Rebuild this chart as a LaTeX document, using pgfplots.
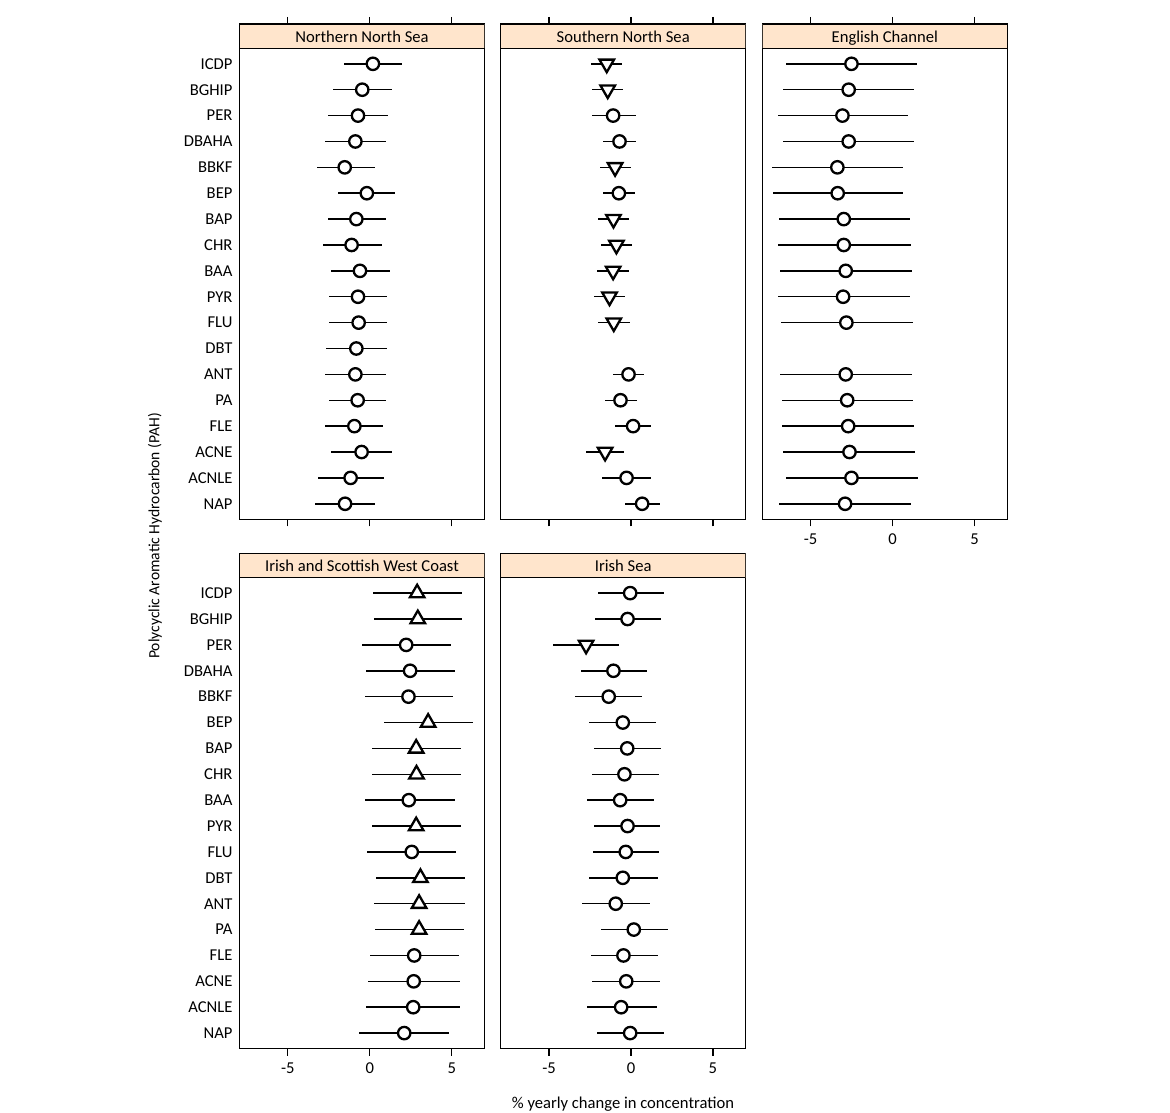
\documentclass[border=0pt]{standalone}
\usepackage{fontspec}
\setmainfont{Carlito}
\usepackage{pgfplots}
\usepackage{pgfplotstable}
\pgfplotsset{compat=1.18}
\definecolor{stripbg}{RGB}{255,229,204}
\newcommand{\fs}{\fontsize{8.3}{10}\selectfont}

% downward triangle, centred like triangle*
\pgfdeclareplotmark{tridown}{%
  \pgfpathmoveto{\pgfqpoint{0pt}{-\pgfplotmarksize}}%
  \pgfpathlineto{\pgfqpointpolar{30}{\pgfplotmarksize}}%
  \pgfpathlineto{\pgfqpointpolar{150}{\pgfplotmarksize}}%
  \pgfpathclose
  \pgfusepathqfillstroke}

% columns: i = row (1 = NAP ... 18 = ICDP), v = estimate, lo/hi = interval, m = marker class
\pgfplotstableread{
i v lo hi m
18 0.19 -1.60 1.97 c
17 -0.46 -2.24 1.35 c
16 -0.72 -2.55 1.14 c
15 -0.88 -2.71 1.00 c
14 -1.53 -3.25 0.33 c
13 -0.18 -1.96 1.55 c
12 -0.82 -2.57 0.96 c
11 -1.11 -2.87 0.72 c
10 -0.60 -2.38 1.22 c
9 -0.72 -2.51 1.04 c
8 -0.68 -2.49 1.06 c
7 -0.82 -2.69 1.06 c
6 -0.88 -2.75 0.96 c
5 -0.74 -2.51 1.00 c
4 -0.94 -2.73 0.82 c
3 -0.50 -2.38 1.35 c
2 -1.17 -3.19 0.88 c
1 -1.51 -3.36 0.33 c
}\nns
\pgfplotstableread{
i v lo hi m
18 -1.48 -2.47 -0.56 d
17 -1.42 -2.37 -0.46 d
16 -1.09 -2.41 0.29 c
15 -0.70 -1.70 0.29 c
14 -0.97 -1.92 -0.01 d
13 -0.74 -1.72 0.23 c
12 -1.07 -2.03 -0.11 d
11 -0.89 -1.84 0.07 d
10 -1.09 -2.06 -0.15 d
9 -1.31 -2.25 -0.35 d
8 -1.05 -1.99 -0.09 d
6 -0.15 -1.11 0.82 c
5 -0.64 -1.56 0.34 c
4 0.13 -0.97 1.23 c
3 -1.58 -2.74 -0.40 d
2 -0.27 -1.74 1.23 c
1 0.68 -0.38 1.78 c
}\sns
\pgfplotstableread{
i v lo hi m
18 -2.51 -6.51 1.51 c
17 -2.68 -6.66 1.33 c
16 -3.06 -7.02 0.94 c
15 -2.68 -6.69 1.33 c
14 -3.37 -7.33 0.63 c
13 -3.35 -7.31 0.66 c
12 -2.98 -6.96 1.04 c
11 -2.98 -6.98 1.10 c
10 -2.86 -6.88 1.18 c
9 -3.02 -6.98 1.04 c
8 -2.82 -6.82 1.22 c
6 -2.86 -6.86 1.16 c
5 -2.77 -6.75 1.22 c
4 -2.71 -6.72 1.30 c
3 -2.63 -6.67 1.39 c
2 -2.51 -6.49 1.53 c
1 -2.90 -6.92 1.14 c
}\ech
\pgfplotstableread{
i v lo hi m
18 2.89 0.21 5.63 u
17 2.93 0.23 5.64 u
16 2.22 -0.46 4.96 c
15 2.46 -0.21 5.20 c
14 2.36 -0.30 5.10 c
13 3.56 0.84 6.30 u
12 2.83 0.11 5.57 u
11 2.85 0.13 5.58 u
10 2.38 -0.32 5.20 c
9 2.83 0.11 5.57 u
8 2.56 -0.15 5.26 c
7 3.09 0.37 5.83 u
6 3.01 0.27 5.78 u
5 3.01 0.31 5.77 u
4 2.71 -0.01 5.46 c
3 2.68 -0.12 5.50 c
2 2.65 -0.24 5.50 c
1 2.10 -0.64 4.84 c
}\iswc
\pgfplotstableread{
i v lo hi m
18 -0.05 -2.03 2.00 c
17 -0.21 -2.21 1.84 c
16 -2.74 -4.75 -0.72 d
15 -1.07 -3.08 0.99 c
14 -1.36 -3.39 0.66 c
13 -0.50 -2.54 1.54 c
12 -0.23 -2.25 1.82 c
11 -0.40 -2.41 1.68 c
10 -0.66 -2.66 1.39 c
9 -0.21 -2.23 1.76 c
8 -0.32 -2.33 1.68 c
7 -0.50 -2.58 1.62 c
6 -0.93 -2.98 1.13 c
5 0.17 -1.84 2.23 c
4 -0.46 -2.47 1.62 c
3 -0.29 -2.39 1.80 c
2 -0.60 -2.66 1.58 c
1 -0.05 -2.05 1.99 c
}\isea

\pgfplotsset{
  panel/.style={
    scale only axis, width=122.5pt, height=247.65pt, anchor=north west,
    xmin=-7.95, xmax=7.0, ymin=0.4, ymax=19.539,
    xtick={-5,0,5}, xticklabels={-5,0,5},
    tick align=outside, major tick length=3.5pt,
    ytick=\empty,
    axis line style={line width=0.6pt},
    every tick/.style={black, line width=0.6pt},
    ticklabel style={font=\fs},
  },
  names/.style={
    ytick={1,...,18},
    yticklabels={NAP,ACNLE,ACNE,FLE,PA,ANT,DBT,FLU,PYR,BAA,CHR,BAP,BEP,BBKF,DBAHA,PER,BGHIP,ICDP},
    ytick style={draw=none}, ytick pos=left,
    yticklabel style={xshift=3.5pt},
  },
  nolab/.style={xticklabels={,,}},
  pts/.style={
    scatter, only marks, point meta=explicit symbolic,
    scatter/classes={
      c={mark=*, mark size=3.1pt, draw=black, fill=white, line width=1.15pt},
      d={mark=tridown, mark size=4.2pt, draw=black, fill=white, line width=1.15pt},
      u={mark=triangle*, mark size=4.2pt, draw=black, fill=white, line width=1.15pt}},
    error bars/.cd, x dir=both, x explicit, error mark=none,
    error bar style={black, line width=0.75pt},
  },
}
\newcommand{\strip}[1]{%
  \path[fill=stripbg, draw=black, line width=0.6pt] (axis cs:-7.95,18.6) rectangle (axis cs:7.0,19.539);
  \node[font=\fs, anchor=base, inner sep=0pt] at (axis cs:-0.475,18.84) {#1};}
\newcommand{\pts}[1]{%
  \addplot[pts] table[x=v, y=i, meta=m,
    x error plus expr=\thisrow{hi}-\thisrow{v},
    x error minus expr=\thisrow{v}-\thisrow{lo}] {#1};}

\begin{document}
\begin{tikzpicture}
\useasboundingbox (0,0) rectangle (585pt,-556pt);

\begin{axis}[panel, names, nolab, at={(119.75pt,-12pt)}]
\pts{\nns}
\strip{Northern North Sea}
\end{axis}

\begin{axis}[panel, nolab, at={(250.35pt,-12pt)}]
\pts{\sns}
\strip{Southern North Sea}
\end{axis}

\begin{axis}[panel, at={(381.15pt,-12pt)}]
\pts{\ech}
\strip{English Channel}
\end{axis}

\begin{axis}[panel, names, xtick pos=left, at={(119.75pt,-276.65pt)}]
\pts{\iswc}
\strip{Irish and Scottish West Coast}
\end{axis}

\begin{axis}[panel, xtick pos=left, at={(250.35pt,-276.65pt)}]
\pts{\isea}
\strip{Irish Sea}
\end{axis}

\node[font=\fontsize{7.8}{9}\selectfont, rotate=90] at (77.5pt,-268pt) {Polycyclic Aromatic Hydrocarbon (PAH)};
\node[font=\fs] at (311.5pt,-552pt) {\% yearly change in concentration};
\end{tikzpicture}
\end{document}
